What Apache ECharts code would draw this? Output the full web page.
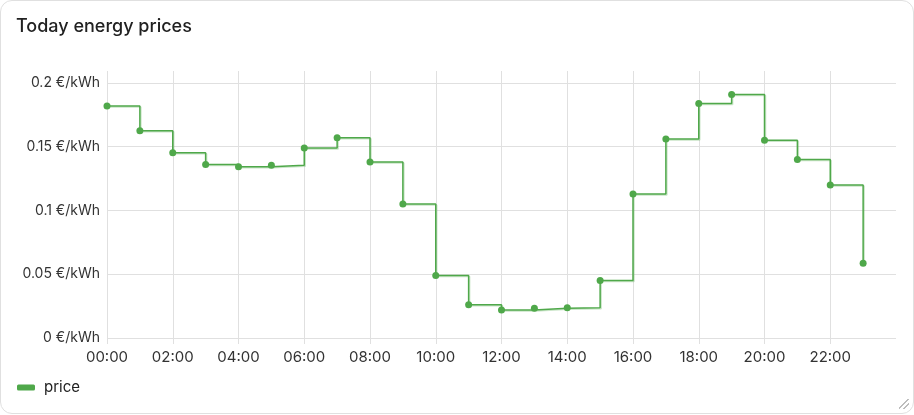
<!DOCTYPE html>
<html>
<head>
<meta charset="utf-8">
<script src="https://cdn.jsdelivr.net/npm/echarts@6/dist/echarts.min.js"></script>
<style>
  html, body { margin: 0; padding: 0; background: #fff; }
  #card { position: absolute; left: 0; top: 0; width: 914px; height: 414px; box-sizing: border-box;
          border: 1px solid #e0e0e0; border-radius: 12px; background: #fff; overflow: hidden; }
  #chart { position: absolute; left: 0; top: 0; width: 914px; height: 414px; }
  #grip { position: absolute; right: 4px; bottom: 4px; width: 10px; height: 10px;
          background: linear-gradient(135deg, transparent 45%, #bdbdbd 45%, #bdbdbd 55%, transparent 55%, transparent 70%, #bdbdbd 70%, #bdbdbd 80%, transparent 80%); }
</style>
</head>
<body>
<div id="card"><div id="chart"></div><div id="grip"></div></div>
<script>
const titleText = 'Today energy prices';
const seriesName = 'price';
const hours = [0,1,2,3,4,5,6,7,8,9,10,11,12,13,14,15,16,17,18,19,20,21,22,23];
const prices = [0.182,0.1625,0.1453,0.136,0.1344,0.1355,0.149,0.157,0.138,0.105,0.049,0.026,
                0.022,0.0234,0.0238,0.045,0.113,0.156,0.184,0.191,0.155,0.140,0.120,0.0586];
const yTicks = [0, 0.05, 0.1, 0.15, 0.2];
const xLabelStep = 2;

const green = '#4fa84a';
const font = 'Inter';
const chart = echarts.init(document.getElementById('chart'), null, {renderer: 'canvas'});
chart.setOption({
  animation: false,
  title: { text: titleText, left: 10, top: 12,
           textStyle: { fontFamily: font, fontSize: 18, fontWeight: 500, color: '#212121' } },
  legend: { left: 11, top: 374, icon: 'roundRect', itemWidth: 18, itemHeight: 6, itemGap: 10,
            textStyle: { fontFamily: font, fontSize: 15, color: '#212121', padding: [0, 0, 0, 4] },
            data: [seriesName] },
  grid: { left: 106, right: 19, top: 70, bottom: 77, containLabel: false },
  xAxis: {
    type: 'value', min: 0, max: 24, interval: xLabelStep,
    axisLine: { show: false },
    axisTick: { show: true, length: 6, lineStyle: { color: '#e0e0e0' } },
    axisLabel: { fontFamily: font, fontSize: 15, color: '#333', margin: 12, showMaxLabel: false,
                 formatter: v => (v < 10 ? '0' : '') + v + ':00' },
    splitLine: { show: true, showMaxLine: false, lineStyle: { color: '#e0e0e0' } }
  },
  yAxis: {
    type: 'value', min: 0, max: 0.2094, interval: 0.05,
    axisLine: { show: false }, axisTick: { show: false },
    axisLabel: { fontFamily: font, fontSize: 14, color: '#333', margin: 7, showMaxLabel: false,
                 formatter: v => yTicks.some(t => Math.abs(t - v) < 1e-9) ? (+v.toFixed(2)) + ' €/kWh' : '' },
    splitLine: { show: true, showMaxLine: false, lineStyle: { color: '#e0e0e0' } }
  },
  series: [{
    name: seriesName, type: 'line', step: 'end',
    data: hours.map((h, i) => [h, prices[i]]),
    symbol: 'circle', symbolSize: 7, showSymbol: true,
    itemStyle: { color: green },
    lineStyle: { color: green, width: 1.5, shadowColor: 'rgba(79,168,74,0.3)', shadowOffsetX: 1, shadowOffsetY: 1, shadowBlur: 0 }
  }]
});
</script>
</body>
</html>
